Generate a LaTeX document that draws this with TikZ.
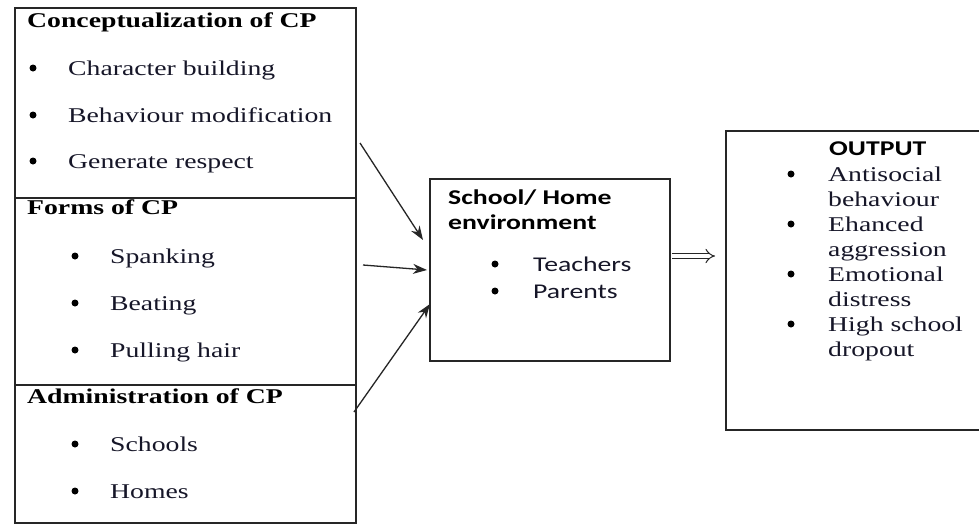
\documentclass[tikz,border=0pt]{standalone}
\usepackage{fontspec}
\setmainfont{Liberation Serif}[FakeStretch=1.32]
\newfontfamily\calib{Carlito}[FakeStretch=1.32]
\usetikzlibrary{arrows.meta}
\definecolor{txt}{RGB}{22,22,40}
\tikzset{
  box/.style={draw=black!85, line width=1.5pt, anchor=north west, inner sep=0pt},
  lbl/.style={anchor=base west, inner sep=0pt, text=txt, font=\fontsize{21}{25}\selectfont},
  slbl/.style={anchor=base west, inner sep=0pt, text=txt, font=\calib\fontsize{21}{25}\selectfont},
  ttl/.style={anchor=base west, inner sep=0pt, text=black, font=\bfseries\fontsize{21}{25}\selectfont},
  sttl/.style={anchor=base west, inner sep=0pt, text=black, font=\calib\bfseries\fontsize{21}{25}\selectfont},
  dot/.style={circle, fill=black, draw=none, inner sep=0pt, minimum size=7pt},
  conn/.style={draw=black!85, line width=1.3pt, -{Stealth[length=14pt,width=10pt]}},
}
\begin{document}
\begin{tikzpicture}[x=1pt,y=-1pt]
\useasboundingbox (0,0) rectangle (979,523);
\fill[white] (0,0) rectangle (979,523);
% left column boxes
\node[box, minimum width=341pt, minimum height=190pt] (conc) at (14,7) {};
\node[box, minimum width=341pt, minimum height=187pt] (forms) at (14,197) {};
\node[box, minimum width=341pt, minimum height=138pt] (admin) at (14,384) {};
% middle box
\node[box, minimum width=240pt, minimum height=182pt] (mid) at (429,178) {};
% output box: its right side runs off the picture
\coordinate (otl) at (726,131);
\coordinate (obl) at (726,430);
\coordinate (otr) at (1000,131);
\coordinate (obr) at (1000,430);
\draw[draw=black!85, line width=1.5pt] (otr) -- (otl) -- (obl) -- (obr);

% left texts
\node[ttl] (t1) at (27,27) {Conceptualization of CP};
\node[dot] (b11) at (33,68) {};
\node[lbl] (i11) at (68,75) {Character building};
\node[dot] (b12) at (33,115) {};
\node[lbl] (i12) at (68,122) {Behaviour modification};
\node[dot] (b13) at (33,161) {};
\node[lbl] (i13) at (68,168) {Generate respect};

\node[ttl] (t2) at (27,214) {Forms of CP};
\node[dot] (b21) at (75,256) {};
\node[lbl] (i21) at (110,263) {Spanking};
\node[dot] (b22) at (75,303) {};
\node[lbl] (i22) at (110,310) {Beating};
\node[dot] (b23) at (75,350) {};
\node[lbl] (i23) at (110,357) {Pulling hair};

\node[ttl] (t3) at (27,403) {Administration of CP};
\node[dot] (b31) at (75,444) {};
\node[lbl] (i31) at (110,451) {Schools};
\node[dot] (b32) at (75,491) {};
\node[lbl] (i32) at (110,498) {Homes};

% middle texts
\node[sttl] (m1) at (448,204) {School/ Home};
\node[sttl] (m2) at (448,229) {environment};
\node[dot] (mb1) at (495,264) {};
\node[slbl] (mi1) at (533,271) {Teachers};
\node[dot] (mb2) at (495,291) {};
\node[slbl] (mi2) at (533,298) {Parents};

% output texts
\node[sttl] (o0) at (829,155) {OUTPUT};
\node[dot] (ob1) at (791,174) {};
\node[lbl] (o1) at (828,181) {Antisocial};
\node[lbl] (o1b) at (828,206) {behaviour};
\node[dot] (ob2) at (791,224) {};
\node[lbl] (o2) at (828,231) {Ehanced};
\node[lbl] (o2b) at (828,256) {aggression};
\node[dot] (ob3) at (791,274) {};
\node[lbl] (o3) at (828,281) {Emotional};
\node[lbl] (o3b) at (828,306) {distress};
\node[dot] (ob4) at (791,324) {};
\node[lbl] (o4) at (828,331) {High school};
\node[lbl] (o4b) at (828,356) {dropout};

% connectors
\coordinate (s1) at (360,143);
\coordinate (s2) at (363,265);
\coordinate (s3) at (354,412);
\draw[conn] (s1) -- ([xshift=-6pt,yshift=-62pt]mid.north west);
\draw[conn] (s2) -- ([xshift=-2pt,yshift=-92pt]mid.north west);
\draw[conn] (s3) -- ([xshift=1pt,yshift=-126pt]mid.north west);

\coordinate (de) at (715,256);
\draw[draw=black!85, line width=1pt, double=white, double distance=4pt, -{Implies[length=9pt]}] ([xshift=1pt]mid.east |- de) -- (de);
\end{tikzpicture}
\end{document}
